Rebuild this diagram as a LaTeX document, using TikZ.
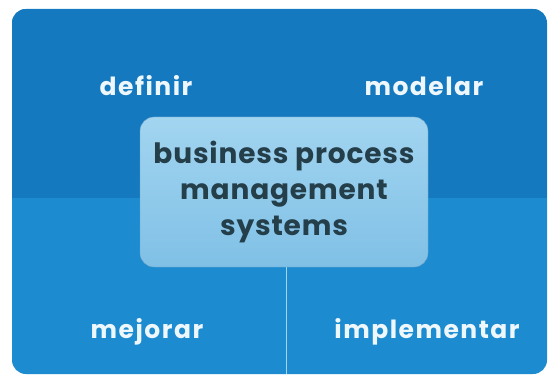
\documentclass[tikz,border=0pt]{standalone}
\usepackage{fontspec}
\setmainfont{Poppins}
\usepackage{tikz}

\definecolor{bpmdark}{HTML}{1579BF}
\definecolor{bpmblue}{HTML}{1C8BD0}
\definecolor{bpmlight}{HTML}{A2D5F0}
\definecolor{bpmmid}{HTML}{80C0E6}
\definecolor{bpmtext}{HTML}{243E4A}
\definecolor{bpmwhite}{HTML}{EDF7FC}

\begin{document}
\begin{tikzpicture}[x=1pt, y=1pt,
    step label/.style={text=bpmwhite,
      font=\bfseries\addfontfeature{LetterSpace=6}\fontsize{25}{30}\selectfont},
    core/.style={rounded corners=14pt, minimum width=288pt, minimum height=150pt,
      top color=bpmlight, bottom color=bpmmid, draw=bpmmid!85!black, line width=0.4pt,
      text=bpmtext, align=center,
      font=\bfseries\addfontfeature{LetterSpace=3}\fontsize{28}{36}\selectfont}]
  \useasboundingbox (0,0) rectangle (553,375);
  \fill[white] (0,0) rectangle (553,375);

  % blue panel, darker on top
  \fill[bpmblue, rounded corners=14pt] (12,1) rectangle (547,366);
  \begin{scope}
    \clip[rounded corners=14pt] (12,1) rectangle (547,366);
    \fill[bpmdark] (12,177) rectangle (547,366);
  \end{scope}

  \node[step label] (def) at (146,289) {definir};
  \node[step label] (mod) at (424,289) {modelar};
  \node[step label] (mej) at (147,43) {mejorar};
  \node[step label] (imp) at (427,43) {implementar};

  \node[core] (bpms) at (284,183) {business process\\management\\systems};

  \coordinate (foot) at (286,1);
  \draw[bpmlight, line width=1pt] (bpms.south -| foot) -- (foot);
\end{tikzpicture}
\end{document}
